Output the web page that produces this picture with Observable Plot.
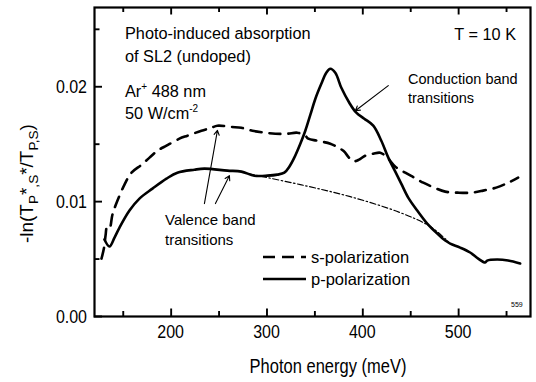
<!DOCTYPE html>
<html>
<head>
<meta charset="utf-8">
<script src="https://cdn.jsdelivr.net/npm/d3@7"></script>
<script src="https://cdn.jsdelivr.net/npm/@observablehq/plot@0.6"></script>
<style>
  body { margin: 0; background: #fff; }
  #chart svg { font-family: "Liberation Sans", Arial, Helvetica, sans-serif; }
</style>
</head>
<body>
<div id="chart"></div>
<script>
// s-polarization spectrum (photon energy in meV, -ln(T*/T))
const sEnergy = [127.3, 130.0, 131.6, 133.0, 135.6, 138.8, 144.0, 151.3, 158.6, 169.0, 177.4, 185.7, 195.1, 208.6, 217.0, 231.6, 242.0, 248.2, 262.9, 273.3, 284.8, 298.3, 308.7, 321.2, 331.7, 340.0, 343.1, 352.5, 366.1, 374.4, 380.0, 384.9, 388.0, 392.0, 396.0, 402.6, 410.9, 418.2, 425.5, 433.9, 444.3, 453.7, 463.1, 474.5, 486.0, 499.6, 513.1, 525.6, 539.2, 551.7, 562.1];
const sValue  = [0.00504, 0.0060, 0.0071, 0.00775, 0.00765, 0.0089, 0.01009, 0.01148, 0.01252, 0.0132, 0.01383, 0.01443, 0.01487, 0.01548, 0.01574, 0.01617, 0.01643, 0.01661, 0.0165, 0.01643, 0.01617, 0.016, 0.01591, 0.01591, 0.016, 0.01574, 0.01548, 0.0153, 0.01504, 0.0147, 0.0144, 0.0139, 0.0136, 0.01352, 0.01365, 0.014, 0.01417, 0.01426, 0.01383, 0.01304, 0.01252, 0.01209, 0.01165, 0.01122, 0.01087, 0.01078, 0.01078, 0.01096, 0.01122, 0.01165, 0.01209];

// p-polarization spectrum
const pEnergy = [130.4, 135.6, 140.9, 146.1, 156.5, 166.9, 180.5, 195.1, 206.5, 224.3, 234.7, 258.7, 273.3, 286.8, 300.4, 310.8, 318.1, 323.3, 328.5, 334.8, 340.0, 345.3, 350.5, 356.7, 361.9, 366.1, 371.3, 377.6, 385.9, 393.2, 401.5, 410.9, 419.3, 426.6, 433.9, 440.1, 447.4, 456.8, 467.2, 477.7, 486.0, 491.2, 501.6, 512.0, 520.4, 527.7, 529.8, 540.2, 551.7, 564.2];
const pValue  = [0.0067, 0.00609, 0.00687, 0.00774, 0.00922, 0.01026, 0.01113, 0.012, 0.01252, 0.01278, 0.01287, 0.0127, 0.01261, 0.01226, 0.01226, 0.01235, 0.01252, 0.01304, 0.01383, 0.01504, 0.01617, 0.01757, 0.01896, 0.02026, 0.02122, 0.02157, 0.02122, 0.01991, 0.01861, 0.01774, 0.01722, 0.01661, 0.0153, 0.01383, 0.01261, 0.01157, 0.01035, 0.00922, 0.00809, 0.00722, 0.00661, 0.00635, 0.006, 0.00557, 0.00504, 0.0047, 0.00487, 0.00496, 0.00487, 0.00461];

// valence-band background under the p-polarization peak
const baseEnergy = [280.6, 334.8, 386.9, 439.1, 470.4, 489.2];
const baseValue  = [0.01243, 0.01148, 0.01043, 0.00904, 0.00783, 0.00652];

// annotation arrows: tail (energy, value) -> head (energy, value)
const arrowFromE = [426.6, 234.7, 246.2];
const arrowFromV = [0.0201, 0.00983, 0.00983];
const arrowToE   = [392.2, 248.3, 260.8];
const arrowToV   = [0.01791, 0.0162, 0.01226];

const xTicks = [200, 300, 400, 500];
const xMinorTicks = [150, 250, 350, 450, 550];
const yTicks = [0, 0.01, 0.02];
const yTickLabels = ["0.00", "0.01", "0.02"];
const yMinorTicks = [0.005, 0.015, 0.025];

const sRows = sEnergy.map((e, i) => ({e, v: sValue[i]}));
const pRows = pEnergy.map((e, i) => ({e, v: pValue[i]}));
const baseRows = baseEnergy.map((e, i) => ({e, v: baseValue[i]}));
const arrowRows = arrowFromE.map((e, i) => ({x1: e, y1: arrowFromV[i], x2: arrowToE[i], y2: arrowToV[i]}));

const W = 536, H = 382;
const margin = {left: 94, right: 6, top: 7, bottom: 66};
const innerW = W - margin.left - margin.right;
const innerH = H - margin.top - margin.bottom;

// inward tick marks, drawn as rules inset from the frame
const tickStyle = {stroke: "#000", strokeWidth: 1.9};
const bottomTicks = (data, len) => Plot.ruleX(data, {x: d => d, insetTop: innerH - len, ...tickStyle});
const topTicks = (data, len) => Plot.ruleX(data, {x: d => d, insetBottom: innerH - len, ...tickStyle});
const leftTicks = (data, len) => Plot.ruleY(data, {y: d => d, insetRight: innerW - len, ...tickStyle});

const chart = Plot.plot({
  width: W,
  height: H,
  marginLeft: margin.left,
  marginRight: margin.right,
  marginTop: margin.top,
  marginBottom: margin.bottom,
  x: {domain: [120, 575], axis: null},
  y: {domain: [0, 0.0269], axis: null},
  style: {background: "#fff", color: "#000"},
  marks: [
    Plot.frame({stroke: "#000", strokeWidth: 2.2}),
    Plot.line(baseRows, {x: "e", y: "v", stroke: "#000", strokeWidth: 1.2, strokeDasharray: "6,2.5,1.5,2.5", curve: "catmull-rom"}),
    Plot.line(sRows, {x: "e", y: "v", stroke: "#000", strokeWidth: 2.6, strokeDasharray: "11,8", curve: "catmull-rom"}),
    Plot.line(pRows, {x: "e", y: "v", stroke: "#000", strokeWidth: 2.6, curve: "catmull-rom"}),
    Plot.arrow(arrowRows, {x1: "x1", y1: "y1", x2: "x2", y2: "y2", stroke: "#000", strokeWidth: 1.1, headLength: 7}),
    bottomTicks(xTicks, 7.5),
    bottomTicks(xMinorTicks, 5),
    topTicks(xTicks, 7.5),
    topTicks(xMinorTicks, 5),
    leftTicks(yTicks, 8),
    leftTicks(yMinorTicks, 5.5)
  ]
});

document.getElementById("chart").append(chart);

const svg = d3.select(chart);
const sx = chart.scale("x");
const sy = chart.scale("y");
const X = v => sx.apply(v);
const Y = v => sy.apply(v);
const frameLeft = margin.left;
const frameRight = W - margin.right;
const frameBottom = H - margin.bottom;
const frameTop = margin.top;

const stretch = 1.2;
const labels = svg.append("g").attr("fill", "#000").attr("font-size", 16);
xTicks.forEach(v => {
  labels.append("text")
    .attr("transform", `translate(${X(v)},${frameBottom + 22}) scale(1,${stretch})`)
    .attr("text-anchor", "middle").text(v);
});
yTicks.forEach((v, i) => {
  labels.append("text")
    .attr("transform", `translate(${frameLeft - 7},${Y(v)}) scale(1,${stretch})`)
    .attr("text-anchor", "end").attr("dy", "0.36em").text(yTickLabels[i]);
});

// axis titles
svg.append("text")
  .attr("transform", `translate(${(frameLeft + frameRight) / 2 + 16},${frameBottom + 57}) scale(1,${stretch})`)
  .attr("text-anchor", "middle").attr("font-size", 16.5).attr("fill", "#000")
  .text("Photon energy (meV)");

const yTitle = svg.append("text")
  .attr("transform", `translate(33,${(frameTop + frameBottom) / 2 + 22}) rotate(-90) scale(1.05,1)`)
  .attr("text-anchor", "middle").attr("font-size", 18).attr("fill", "#000");
yTitle.append("tspan").text("-ln(T");
yTitle.append("tspan").attr("font-size", 13).attr("dy", 5).text("P");
yTitle.append("tspan").attr("dy", -5).text("*");
yTitle.append("tspan").attr("font-size", 13).attr("dy", 5).text(",S");
yTitle.append("tspan").attr("dy", -5).text("*");
yTitle.append("tspan").text("/T");
yTitle.append("tspan").attr("font-size", 13).attr("dy", 5).text("P,S");
yTitle.append("tspan").attr("dy", -5).text(")");

// annotations
const ann = svg.append("g").attr("fill", "#000").attr("font-size", 16.3).attr("text-anchor", "start");
ann.append("text").attr("x", 125).attr("y", 39).text("Photo-induced absorption");
ann.append("text").attr("x", 125).attr("y", 62).text("of SL2 (undoped)");
const ar = ann.append("text").attr("x", 125).attr("y", 96.5);
ar.append("tspan").text("Ar");
ar.append("tspan").attr("font-size", 10).attr("dy", -7).text("+");
ar.append("tspan").attr("dy", 7).text(" 488 nm");
const pw = ann.append("text").attr("x", 125).attr("y", 119);
pw.append("tspan").text("50 W/cm");
pw.append("tspan").attr("font-size", 10).attr("dy", -7).text("-2");
ann.append("text").attr("x", 516).attr("y", 40).attr("text-anchor", "end").text("T = 10 K");
ann.append("text").attr("x", 408).attr("y", 84).attr("font-size", 14.5).text("Conduction band");
ann.append("text").attr("x", 408).attr("y", 103).attr("font-size", 14.5).text("transitions");
ann.append("text").attr("x", 165).attr("y", 225).attr("font-size", 15).text("Valence band");
ann.append("text").attr("x", 165).attr("y", 245).attr("font-size", 15).text("transitions");
ann.append("text").attr("x", 511).attr("y", 307).attr("font-size", 7).text("559");

// legend
const leg = svg.append("g").attr("text-anchor", "start");
leg.append("line").attr("x1", 263).attr("x2", 306).attr("y1", 257).attr("y2", 257)
  .style("stroke", "#000").style("stroke-width", "2.6px").style("stroke-dasharray", "12,7");
leg.append("line").attr("x1", 263).attr("x2", 306).attr("y1", 279).attr("y2", 279)
  .style("stroke", "#000").style("stroke-width", "2.6px");
leg.append("text").attr("x", 311).attr("y", 263).attr("font-size", 16.5).attr("fill", "#000").text("s-polarization");
leg.append("text").attr("x", 311).attr("y", 285).attr("font-size", 16.5).attr("fill", "#000").text("p-polarization");
</script>
</body>
</html>
